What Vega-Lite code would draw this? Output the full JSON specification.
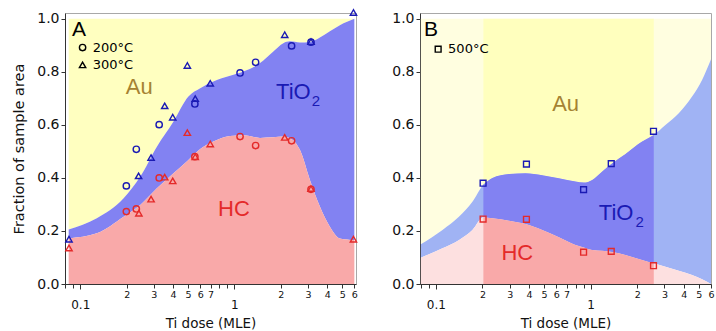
{
  "$schema": "https://vega.github.io/schema/vega-lite/v6.json",
  "padding": {"left": 11, "top": 6, "right": 0, "bottom": 0},
  "background": "white",
  "config": {
    "font": "DejaVu Sans",
    "view": {"stroke": "#a8a8a8", "strokeWidth": 1},
    "axis": {"domainColor": "#333333", "tickColor": "#333333", "labelColor": "#111111", "titleColor": "#111111", "grid": false, "labelFont": "DejaVu Sans", "titleFont": "DejaVu Sans", "titleFontWeight": "normal"},
    "concat": {"spacing": 31}
  },
  "datasets": {
    "curveA": [
      {"x": 0.0841, "hc": 0.172, "ti": 0.206},
      {"x": 0.128, "hc": 0.191, "ti": 0.248},
      {"x": 0.191, "hc": 0.254, "ti": 0.323},
      {"x": 0.245, "hc": 0.298, "ti": 0.405},
      {"x": 0.314, "hc": 0.361, "ti": 0.518},
      {"x": 0.4025, "hc": 0.418, "ti": 0.613},
      {"x": 0.503, "hc": 0.468, "ti": 0.707},
      {"x": 0.6, "hc": 0.509, "ti": 0.738},
      {"x": 0.73, "hc": 0.537, "ti": 0.7635},
      {"x": 0.937, "hc": 0.5585, "ti": 0.785},
      {"x": 1.143, "hc": 0.561, "ti": 0.801},
      {"x": 1.466, "hc": 0.551, "ti": 0.833},
      {"x": 1.788, "hc": 0.553, "ti": 0.877},
      {"x": 2.076, "hc": 0.556, "ti": 0.908},
      {"x": 2.293, "hc": 0.55, "ti": 0.915},
      {"x": 2.661, "hc": 0.506, "ti": 0.911},
      {"x": 3.09, "hc": 0.3925, "ti": 0.913},
      {"x": 3.586, "hc": 0.292, "ti": 0.93},
      {"x": 4.163, "hc": 0.216, "ti": 0.953},
      {"x": 4.832, "hc": 0.172, "ti": 0.976},
      {"x": 6.0, "hc": 0.166, "ti": 1.0}
    ],
    "curveB": [
      {"x": 0.08, "hc": 0.0994, "ti": 0.1497},
      {"x": 0.1104, "hc": 0.1346, "ti": 0.2038},
      {"x": 0.1414, "hc": 0.166, "ti": 0.2541},
      {"x": 0.1723, "hc": 0.2038, "ti": 0.31},
      {"x": 0.2029, "hc": 0.2516, "ti": 0.375},
      {"x": 0.2318, "hc": 0.2478, "ti": 0.4},
      {"x": 0.2972, "hc": 0.239, "ti": 0.4151},
      {"x": 0.3805, "hc": 0.2264, "ti": 0.4176},
      {"x": 0.4875, "hc": 0.2038, "ti": 0.4101},
      {"x": 0.6244, "hc": 0.1761, "ti": 0.3987},
      {"x": 0.8, "hc": 0.1472, "ti": 0.3862},
      {"x": 0.905, "hc": 0.138, "ti": 0.3824},
      {"x": 1.024, "hc": 0.1283, "ti": 0.3925},
      {"x": 1.189, "hc": 0.125, "ti": 0.4239},
      {"x": 1.379, "hc": 0.121, "ti": 0.4553},
      {"x": 1.681, "hc": 0.1094, "ti": 0.4906},
      {"x": 2.153, "hc": 0.0906, "ti": 0.5371},
      {"x": 2.561, "hc": 0.078, "ti": 0.5623},
      {"x": 3.045, "hc": 0.0654, "ti": 0.6},
      {"x": 3.713, "hc": 0.0503, "ti": 0.644},
      {"x": 4.526, "hc": 0.034, "ti": 0.7069},
      {"x": 5.252, "hc": 0.0176, "ti": 0.7698},
      {"x": 6.0, "hc": 0.0, "ti": 0.8478}
    ],
    "pointsA": [
      {"x": 0.0845, "y": 0.169, "series": "TiO2", "shape": "300C"},
      {"x": 0.239, "y": 0.408, "series": "TiO2", "shape": "300C"},
      {"x": 0.288, "y": 0.477, "series": "TiO2", "shape": "300C"},
      {"x": 0.353, "y": 0.672, "series": "TiO2", "shape": "300C"},
      {"x": 0.398, "y": 0.629, "series": "TiO2", "shape": "300C"},
      {"x": 0.495, "y": 0.824, "series": "TiO2", "shape": "300C"},
      {"x": 0.557, "y": 0.699, "series": "TiO2", "shape": "300C"},
      {"x": 0.697, "y": 0.757, "series": "TiO2", "shape": "300C"},
      {"x": 2.12, "y": 0.94, "series": "TiO2", "shape": "300C"},
      {"x": 3.14, "y": 0.914, "series": "TiO2", "shape": "300C"},
      {"x": 5.92, "y": 1.024, "series": "TiO2", "shape": "300C"},
      {"x": 0.199, "y": 0.37, "series": "TiO2", "shape": "200C"},
      {"x": 0.231, "y": 0.508, "series": "TiO2", "shape": "200C"},
      {"x": 0.325, "y": 0.601, "series": "TiO2", "shape": "200C"},
      {"x": 0.554, "y": 0.679, "series": "TiO2", "shape": "200C"},
      {"x": 1.088, "y": 0.796, "series": "TiO2", "shape": "200C"},
      {"x": 1.373, "y": 0.836, "series": "TiO2", "shape": "200C"},
      {"x": 2.35, "y": 0.898, "series": "TiO2", "shape": "200C"},
      {"x": 3.14, "y": 0.912, "series": "TiO2", "shape": "200C"},
      {"x": 0.0845, "y": 0.136, "series": "HC", "shape": "300C"},
      {"x": 0.24, "y": 0.267, "series": "HC", "shape": "300C"},
      {"x": 0.288, "y": 0.32, "series": "HC", "shape": "300C"},
      {"x": 0.353, "y": 0.403, "series": "HC", "shape": "300C"},
      {"x": 0.398, "y": 0.389, "series": "HC", "shape": "300C"},
      {"x": 0.495, "y": 0.571, "series": "HC", "shape": "300C"},
      {"x": 0.557, "y": 0.48, "series": "HC", "shape": "300C"},
      {"x": 0.697, "y": 0.528, "series": "HC", "shape": "300C"},
      {"x": 2.12, "y": 0.553, "series": "HC", "shape": "300C"},
      {"x": 3.14, "y": 0.36, "series": "HC", "shape": "300C"},
      {"x": 5.92, "y": 0.169, "series": "HC", "shape": "300C"},
      {"x": 0.199, "y": 0.273, "series": "HC", "shape": "200C"},
      {"x": 0.231, "y": 0.283, "series": "HC", "shape": "200C"},
      {"x": 0.325, "y": 0.4, "series": "HC", "shape": "200C"},
      {"x": 0.554, "y": 0.48, "series": "HC", "shape": "200C"},
      {"x": 1.088, "y": 0.556, "series": "HC", "shape": "200C"},
      {"x": 1.373, "y": 0.522, "series": "HC", "shape": "200C"},
      {"x": 2.35, "y": 0.54, "series": "HC", "shape": "200C"},
      {"x": 3.14, "y": 0.357, "series": "HC", "shape": "200C"},
      {"x": 0.1035, "y": 0.8917, "series": "key", "shape": "200C"},
      {"x": 0.1035, "y": 0.8264, "series": "key", "shape": "300C"}
    ],
    "pointsB": [
      {"x": 0.202, "y": 0.38, "series": "TiO2", "shape": "500C"},
      {"x": 0.385, "y": 0.452, "series": "TiO2", "shape": "500C"},
      {"x": 0.901, "y": 0.356, "series": "TiO2", "shape": "500C"},
      {"x": 1.36, "y": 0.454, "series": "TiO2", "shape": "500C"},
      {"x": 2.55, "y": 0.576, "series": "TiO2", "shape": "500C"},
      {"x": 0.202, "y": 0.245, "series": "HC", "shape": "500C"},
      {"x": 0.385, "y": 0.244, "series": "HC", "shape": "500C"},
      {"x": 0.901, "y": 0.12, "series": "HC", "shape": "500C"},
      {"x": 1.36, "y": 0.123, "series": "HC", "shape": "500C"},
      {"x": 2.55, "y": 0.069, "series": "HC", "shape": "500C"},
      {"x": 0.1035, "y": 0.8855, "series": "key", "shape": "500C"}
    ],
    "textA": [
      {"x": 0.0884, "y": 0.958, "text": "A", "series": "key", "role": "letter"},
      {"x": 0.1205, "y": 0.8917, "text": "200°C", "series": "key", "role": "legend"},
      {"x": 0.1205, "y": 0.8264, "text": "300°C", "series": "key", "role": "legend"},
      {"x": 0.2416, "y": 0.7445, "text": "Au", "series": "Au", "role": "region"},
      {"x": 2.411, "y": 0.7257, "text": "TiO", "series": "TiO2", "role": "region"},
      {"x": 3.17, "y": 0.69, "text": "2", "series": "TiO2", "role": "sub"},
      {"x": 0.993, "y": 0.282, "text": "HC", "series": "HC", "role": "region"}
    ],
    "textB": [
      {"x": 0.084, "y": 0.958, "text": "B", "series": "key", "role": "letter"},
      {"x": 0.12, "y": 0.8855, "text": "500°C", "series": "key", "role": "legend"},
      {"x": 0.69, "y": 0.679, "text": "Au", "series": "Au", "role": "region"},
      {"x": 1.463, "y": 0.2667, "text": "TiO", "series": "TiO2", "role": "region"},
      {"x": 1.951, "y": 0.232, "text": "2", "series": "TiO2", "role": "sub"},
      {"x": 0.336, "y": 0.1157, "text": "HC", "series": "HC", "role": "region"}
    ]
  },
  "hconcat": [
    {
      "width": 291,
      "height": 271,
      "resolve": {"axis": {"x": "independent"}},
      "layer": [
        {
          "data": {"name": "curveA"},
          "mark": {"type": "area", "interpolate": "monotone", "color": "#ffffc0"},
          "encoding": {
            "x": {"field": "x", "type": "quantitative", "scale": {"type": "log", "domain": [0.0796, 6.15], "nice": false},
                  "axis": {"orient": "bottom", "values": [0.1, 1], "labelExpr": "datum.value < 0.5 ? '0.1' : '1'", "labelFontSize": 12, "tickSize": 5, "labelPadding": 10, "labelFlush": false, "labelOverlap": false, "title": "Ti dose (MLE)", "titleFontSize": 13.5, "titlePadding": 6}},
            "y": {"field": "ti", "type": "quantitative", "scale": {"domain": [0, 1.022], "nice": false},
                  "axis": {"values": [0, 0.2, 0.4, 0.6, 0.8, 1], "format": ".1f", "labelFontSize": 14, "tickSize": 4, "labelPadding": 2, "title": "Fraction of sample area", "titleFontSize": 14.5, "titlePadding": 10}},
            "y2": {"datum": 1}
          }
        },
        {
          "data": {"name": "curveA"},
          "mark": {"type": "area", "interpolate": "monotone", "color": "#8282f2"},
          "encoding": {
            "x": {"field": "x", "type": "quantitative", "scale": {"type": "log", "domain": [0.0796, 6.15], "nice": false},
                  "axis": {"orient": "bottom", "values": [0.08, 0.09, 0.2, 0.3, 0.4, 0.5, 0.6, 0.7, 0.8, 0.9, 2, 3, 4, 5, 6], "labelExpr": "datum.value < 1 ? ((datum.value > 0.15 && datum.value < 0.75) ? '' + round(datum.value * 10) : '') : '' + round(datum.value)", "labelFontSize": 9.5, "tickSize": 4, "labelPadding": 1, "labelFlush": false, "labelOverlap": false, "domain": false, "title": null}},
            "y": {"field": "hc", "type": "quantitative", "scale": {"domain": [0, 1.022], "nice": false},
                  "axis": {"values": [0, 0.2, 0.4, 0.6, 0.8, 1], "format": ".1f", "labelFontSize": 14, "tickSize": 4, "labelPadding": 2, "title": "Fraction of sample area", "titleFontSize": 14.5, "titlePadding": 10}},
            "y2": {"field": "ti"}
          }
        },
        {
          "data": {"name": "curveA"},
          "mark": {"type": "area", "interpolate": "monotone", "color": "#f9a9a9"},
          "encoding": {
            "x": {"field": "x", "type": "quantitative", "scale": {"type": "log", "domain": [0.0796, 6.15], "nice": false}, "axis": null},
            "y": {"field": "hc", "type": "quantitative", "scale": {"domain": [0, 1.022], "nice": false},
                  "axis": {"values": [0, 0.2, 0.4, 0.6, 0.8, 1], "format": ".1f", "labelFontSize": 14, "tickSize": 4, "labelPadding": 2, "title": "Fraction of sample area", "titleFontSize": 14.5, "titlePadding": 10}},
            "y2": {"datum": 0}
          }
        },
        {
          "data": {"name": "pointsA"},
          "mark": {"type": "point", "filled": false, "strokeWidth": 1.4, "size": 40, "opacity": 1},
          "encoding": {
            "x": {"field": "x", "type": "quantitative", "scale": {"type": "log", "domain": [0.0796, 6.15], "nice": false}, "axis": null},
            "y": {"field": "y", "type": "quantitative", "scale": {"domain": [0, 1.022], "nice": false},
                  "axis": {"values": [0, 0.2, 0.4, 0.6, 0.8, 1], "format": ".1f", "labelFontSize": 14, "tickSize": 4, "labelPadding": 2, "title": "Fraction of sample area", "titleFontSize": 14.5, "titlePadding": 10}},
            "shape": {"field": "shape", "type": "nominal", "scale": {"domain": ["200C", "300C", "500C"], "range": ["circle", "triangle-up", "square"]}, "legend": null},
            "color": {"field": "series", "type": "nominal", "scale": {"domain": ["TiO2", "HC", "Au", "key"], "range": ["#1a1ab4", "#e42a2a", "#a58232", "#000000"]}, "legend": null}
          }
        },
        {
          "data": {"name": "textA"},
          "transform": [{"filter": "datum.role == 'region'"}],
          "mark": {"type": "text", "fontSize": 22, "font": "Liberation Sans", "align": "center", "baseline": "middle"},
          "encoding": {
            "x": {"field": "x", "type": "quantitative", "scale": {"type": "log", "domain": [0.0796, 6.15], "nice": false}, "axis": null},
            "y": {"field": "y", "type": "quantitative", "scale": {"domain": [0, 1.022], "nice": false},
                  "axis": {"values": [0, 0.2, 0.4, 0.6, 0.8, 1], "format": ".1f", "labelFontSize": 14, "tickSize": 4, "labelPadding": 2, "title": "Fraction of sample area", "titleFontSize": 14.5, "titlePadding": 10}},
            "text": {"field": "text", "type": "nominal"},
            "color": {"field": "series", "type": "nominal", "scale": {"domain": ["TiO2", "HC", "Au", "key"], "range": ["#1a1ab4", "#e42a2a", "#a58232", "#000000"]}, "legend": null}
          }
        },
        {
          "data": {"name": "textA"},
          "transform": [{"filter": "datum.role == 'sub'"}],
          "mark": {"type": "text", "fontSize": 15, "font": "Liberation Sans", "align": "left", "baseline": "middle"},
          "encoding": {
            "x": {"field": "x", "type": "quantitative", "scale": {"type": "log", "domain": [0.0796, 6.15], "nice": false}, "axis": null},
            "y": {"field": "y", "type": "quantitative", "scale": {"domain": [0, 1.022], "nice": false},
                  "axis": {"values": [0, 0.2, 0.4, 0.6, 0.8, 1], "format": ".1f", "labelFontSize": 14, "tickSize": 4, "labelPadding": 2, "title": "Fraction of sample area", "titleFontSize": 14.5, "titlePadding": 10}},
            "text": {"field": "text", "type": "nominal"},
            "color": {"field": "series", "type": "nominal", "scale": {"domain": ["TiO2", "HC", "Au", "key"], "range": ["#1a1ab4", "#e42a2a", "#a58232", "#000000"]}, "legend": null}
          }
        },
        {
          "data": {"name": "textA"},
          "transform": [{"filter": "datum.role == 'letter'"}],
          "mark": {"type": "text", "fontSize": 21, "font": "Liberation Sans", "align": "left", "baseline": "middle", "color": "#000000"},
          "encoding": {
            "x": {"field": "x", "type": "quantitative", "scale": {"type": "log", "domain": [0.0796, 6.15], "nice": false}, "axis": null},
            "y": {"field": "y", "type": "quantitative", "scale": {"domain": [0, 1.022], "nice": false},
                  "axis": {"values": [0, 0.2, 0.4, 0.6, 0.8, 1], "format": ".1f", "labelFontSize": 14, "tickSize": 4, "labelPadding": 2, "title": "Fraction of sample area", "titleFontSize": 14.5, "titlePadding": 10}},
            "text": {"field": "text", "type": "nominal"}
          }
        },
        {
          "data": {"name": "textA"},
          "transform": [{"filter": "datum.role == 'legend'"}],
          "mark": {"type": "text", "fontSize": 13, "font": "DejaVu Sans", "align": "left", "baseline": "middle", "color": "#000000"},
          "encoding": {
            "x": {"field": "x", "type": "quantitative", "scale": {"type": "log", "domain": [0.0796, 6.15], "nice": false}, "axis": null},
            "y": {"field": "y", "type": "quantitative", "scale": {"domain": [0, 1.022], "nice": false},
                  "axis": {"values": [0, 0.2, 0.4, 0.6, 0.8, 1], "format": ".1f", "labelFontSize": 14, "tickSize": 4, "labelPadding": 2, "title": "Fraction of sample area", "titleFontSize": 14.5, "titlePadding": 10}},
            "text": {"field": "text", "type": "nominal"}
          }
        }
      ]
    },
    {
      "width": 291,
      "height": 271,
      "resolve": {"axis": {"x": "independent"}},
      "layer": [
        {
          "data": {"name": "curveB"},
          "mark": {"type": "area", "interpolate": "monotone", "color": "#fffee0"},
          "encoding": {
            "x": {"field": "x", "type": "quantitative", "scale": {"type": "log", "domain": [0.079, 6.0], "nice": false},
                  "axis": {"orient": "bottom", "values": [0.1, 1], "labelExpr": "datum.value < 0.5 ? '0.1' : '1'", "labelFontSize": 12, "tickSize": 5, "labelPadding": 10, "labelFlush": false, "labelOverlap": false, "title": "Ti dose (MLE)", "titleFontSize": 13.5, "titlePadding": 6}},
            "y": {"field": "ti", "type": "quantitative", "scale": {"domain": [0, 1.022], "nice": false},
                  "axis": {"values": [0, 0.2, 0.4, 0.6, 0.8, 1], "format": ".1f", "labelFontSize": 14, "tickSize": 4, "labelPadding": 2, "title": null}},
            "y2": {"datum": 1}
          }
        },
        {
          "data": {"name": "curveB"},
          "mark": {"type": "area", "interpolate": "monotone", "color": "#a0b3f4"},
          "encoding": {
            "x": {"field": "x", "type": "quantitative", "scale": {"type": "log", "domain": [0.079, 6.0], "nice": false},
                  "axis": {"orient": "bottom", "values": [0.08, 0.09, 0.2, 0.3, 0.4, 0.5, 0.6, 0.7, 0.8, 0.9, 2, 3, 4, 5, 6], "labelExpr": "datum.value < 1 ? ((datum.value > 0.15 && datum.value < 0.75) ? '' + round(datum.value * 10) : '') : '' + round(datum.value)", "labelFontSize": 9.5, "tickSize": 4, "labelPadding": 1, "labelFlush": false, "labelOverlap": false, "domain": false, "title": null}},
            "y": {"field": "hc", "type": "quantitative", "scale": {"domain": [0, 1.022], "nice": false},
                  "axis": {"values": [0, 0.2, 0.4, 0.6, 0.8, 1], "format": ".1f", "labelFontSize": 14, "tickSize": 4, "labelPadding": 2, "title": null}},
            "y2": {"field": "ti"}
          }
        },
        {
          "data": {"name": "curveB"},
          "mark": {"type": "area", "interpolate": "monotone", "color": "#fde0e0"},
          "encoding": {
            "x": {"field": "x", "type": "quantitative", "scale": {"type": "log", "domain": [0.079, 6.0], "nice": false}, "axis": null},
            "y": {"field": "hc", "type": "quantitative", "scale": {"domain": [0, 1.022], "nice": false},
                  "axis": {"values": [0, 0.2, 0.4, 0.6, 0.8, 1], "format": ".1f", "labelFontSize": 14, "tickSize": 4, "labelPadding": 2, "title": null}},
            "y2": {"datum": 0}
          }
        },
        {
          "data": {"name": "curveB"},
          "transform": [{"filter": "datum.x >= 0.2 && datum.x <= 2.6"}],
          "mark": {"type": "area", "interpolate": "monotone", "color": "#ffffbe"},
          "encoding": {
            "x": {"field": "x", "type": "quantitative", "scale": {"type": "log", "domain": [0.079, 6.0], "nice": false}, "axis": null},
            "y": {"field": "ti", "type": "quantitative", "scale": {"domain": [0, 1.022], "nice": false},
                  "axis": {"values": [0, 0.2, 0.4, 0.6, 0.8, 1], "format": ".1f", "labelFontSize": 14, "tickSize": 4, "labelPadding": 2, "title": null}},
            "y2": {"datum": 1}
          }
        },
        {
          "data": {"name": "curveB"},
          "transform": [{"filter": "datum.x >= 0.2 && datum.x <= 2.6"}],
          "mark": {"type": "area", "interpolate": "monotone", "color": "#8282f2"},
          "encoding": {
            "x": {"field": "x", "type": "quantitative", "scale": {"type": "log", "domain": [0.079, 6.0], "nice": false}, "axis": null},
            "y": {"field": "hc", "type": "quantitative", "scale": {"domain": [0, 1.022], "nice": false},
                  "axis": {"values": [0, 0.2, 0.4, 0.6, 0.8, 1], "format": ".1f", "labelFontSize": 14, "tickSize": 4, "labelPadding": 2, "title": null}},
            "y2": {"field": "ti"}
          }
        },
        {
          "data": {"name": "curveB"},
          "transform": [{"filter": "datum.x >= 0.2 && datum.x <= 2.6"}],
          "mark": {"type": "area", "interpolate": "monotone", "color": "#f9a9a9"},
          "encoding": {
            "x": {"field": "x", "type": "quantitative", "scale": {"type": "log", "domain": [0.079, 6.0], "nice": false}, "axis": null},
            "y": {"field": "hc", "type": "quantitative", "scale": {"domain": [0, 1.022], "nice": false},
                  "axis": {"values": [0, 0.2, 0.4, 0.6, 0.8, 1], "format": ".1f", "labelFontSize": 14, "tickSize": 4, "labelPadding": 2, "title": null}},
            "y2": {"datum": 0}
          }
        },
        {
          "data": {"name": "pointsB"},
          "mark": {"type": "point", "filled": false, "strokeWidth": 1.4, "size": 34, "opacity": 1},
          "encoding": {
            "x": {"field": "x", "type": "quantitative", "scale": {"type": "log", "domain": [0.079, 6.0], "nice": false}, "axis": null},
            "y": {"field": "y", "type": "quantitative", "scale": {"domain": [0, 1.022], "nice": false},
                  "axis": {"values": [0, 0.2, 0.4, 0.6, 0.8, 1], "format": ".1f", "labelFontSize": 14, "tickSize": 4, "labelPadding": 2, "title": null}},
            "shape": {"field": "shape", "type": "nominal", "scale": {"domain": ["200C", "300C", "500C"], "range": ["circle", "triangle-up", "square"]}, "legend": null},
            "color": {"field": "series", "type": "nominal", "scale": {"domain": ["TiO2", "HC", "Au", "key"], "range": ["#1a1ab4", "#e42a2a", "#a58232", "#000000"]}, "legend": null}
          }
        },
        {
          "data": {"name": "textB"},
          "transform": [{"filter": "datum.role == 'region'"}],
          "mark": {"type": "text", "fontSize": 22, "font": "Liberation Sans", "align": "center", "baseline": "middle"},
          "encoding": {
            "x": {"field": "x", "type": "quantitative", "scale": {"type": "log", "domain": [0.079, 6.0], "nice": false}, "axis": null},
            "y": {"field": "y", "type": "quantitative", "scale": {"domain": [0, 1.022], "nice": false},
                  "axis": {"values": [0, 0.2, 0.4, 0.6, 0.8, 1], "format": ".1f", "labelFontSize": 14, "tickSize": 4, "labelPadding": 2, "title": null}},
            "text": {"field": "text", "type": "nominal"},
            "color": {"field": "series", "type": "nominal", "scale": {"domain": ["TiO2", "HC", "Au", "key"], "range": ["#1a1ab4", "#e42a2a", "#a58232", "#000000"]}, "legend": null}
          }
        },
        {
          "data": {"name": "textB"},
          "transform": [{"filter": "datum.role == 'sub'"}],
          "mark": {"type": "text", "fontSize": 15, "font": "Liberation Sans", "align": "left", "baseline": "middle"},
          "encoding": {
            "x": {"field": "x", "type": "quantitative", "scale": {"type": "log", "domain": [0.079, 6.0], "nice": false}, "axis": null},
            "y": {"field": "y", "type": "quantitative", "scale": {"domain": [0, 1.022], "nice": false},
                  "axis": {"values": [0, 0.2, 0.4, 0.6, 0.8, 1], "format": ".1f", "labelFontSize": 14, "tickSize": 4, "labelPadding": 2, "title": null}},
            "text": {"field": "text", "type": "nominal"},
            "color": {"field": "series", "type": "nominal", "scale": {"domain": ["TiO2", "HC", "Au", "key"], "range": ["#1a1ab4", "#e42a2a", "#a58232", "#000000"]}, "legend": null}
          }
        },
        {
          "data": {"name": "textB"},
          "transform": [{"filter": "datum.role == 'letter'"}],
          "mark": {"type": "text", "fontSize": 21, "font": "Liberation Sans", "align": "left", "baseline": "middle", "color": "#000000"},
          "encoding": {
            "x": {"field": "x", "type": "quantitative", "scale": {"type": "log", "domain": [0.079, 6.0], "nice": false}, "axis": null},
            "y": {"field": "y", "type": "quantitative", "scale": {"domain": [0, 1.022], "nice": false},
                  "axis": {"values": [0, 0.2, 0.4, 0.6, 0.8, 1], "format": ".1f", "labelFontSize": 14, "tickSize": 4, "labelPadding": 2, "title": null}},
            "text": {"field": "text", "type": "nominal"}
          }
        },
        {
          "data": {"name": "textB"},
          "transform": [{"filter": "datum.role == 'legend'"}],
          "mark": {"type": "text", "fontSize": 13, "font": "DejaVu Sans", "align": "left", "baseline": "middle", "color": "#000000"},
          "encoding": {
            "x": {"field": "x", "type": "quantitative", "scale": {"type": "log", "domain": [0.079, 6.0], "nice": false}, "axis": null},
            "y": {"field": "y", "type": "quantitative", "scale": {"domain": [0, 1.022], "nice": false},
                  "axis": {"values": [0, 0.2, 0.4, 0.6, 0.8, 1], "format": ".1f", "labelFontSize": 14, "tickSize": 4, "labelPadding": 2, "title": null}},
            "text": {"field": "text", "type": "nominal"}
          }
        }
      ]
    }
  ]
}
